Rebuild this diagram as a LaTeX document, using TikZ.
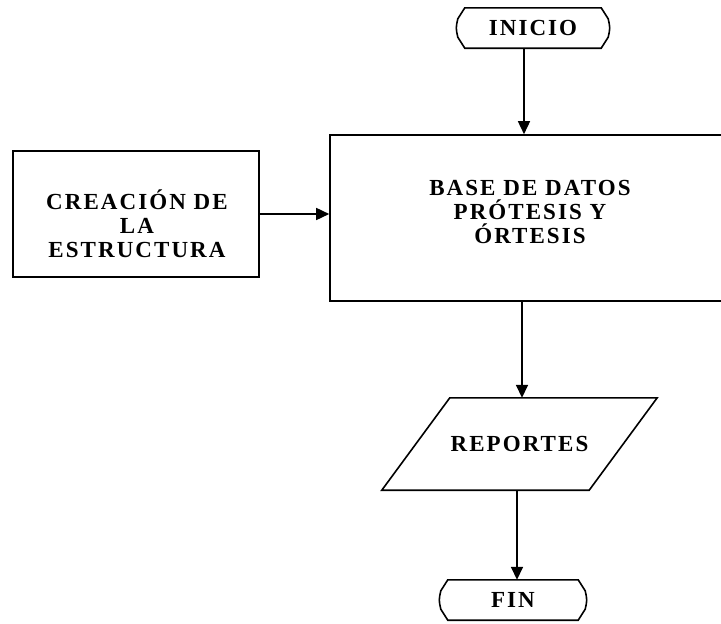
\documentclass[tikz,border=0pt]{standalone}
\usepackage{fontspec}
\newfontfamily\lblfont[LetterSpace=9]{Liberation Serif}
\usetikzlibrary{arrows.meta}

% outline of a terminal (start / end) box around a named node
\newcommand{\drawterminal}[1]{%
  \draw[outline] ([xshift=7pt]#1.north west) -- ([xshift=-7pt]#1.north east)
    -- ([yshift=-11pt]#1.north east) .. controls ([xshift=2pt]#1.east) .. ([yshift=11pt]#1.south east)
    -- ([xshift=-7pt]#1.south east) -- ([xshift=7pt]#1.south west)
    -- ([yshift=11pt]#1.south west) .. controls ([xshift=-2pt]#1.west) .. ([yshift=-11pt]#1.north west)
    -- cycle;}

\begin{document}
\begin{tikzpicture}[x=1pt,y=-1pt,
  outline/.style={line width=1.6pt, line join=miter},
  txt/.style={font=\lblfont\bfseries\fontsize{23}{24}\selectfont, align=center, inner sep=0pt},
  frame/.style={draw, line width=1.6pt, inner sep=0pt},
  arr/.style={line width=1.6pt, -{Triangle[length=13pt,width=12pt]}}]

\useasboundingbox (0,0) rectangle (721,624);

% terminals
\node[txt, minimum width=150pt, minimum height=40pt] (ini) at (533,28) {INICIO};
\drawterminal{ini}
\node[txt, minimum width=144pt, minimum height=40pt] (fin) at (513,600) {FIN};
\drawterminal{fin}

% process boxes
\node[frame, minimum width=400pt, minimum height=166pt] (bd) at (530,218) {};
\node[txt] (bdtext) at (530,212) {BASE DE DATOS\\PRÓTESIS Y\\ÓRTESIS};

\node[frame, minimum width=246pt, minimum height=126pt] (cre) at (136,214) {};
\node[txt] (cretext) at (137,224) {CREACIÓN DE\\LA\\ESTRUCTURA};

% output (parallelogram)
\node[txt, minimum width=207pt, minimum height=92pt] (rep) at (519.5,444) {REPORTES};
\draw[outline] ([xshift=34pt]rep.north west) -- ([xshift=34pt]rep.north east)
  -- ([xshift=-34pt]rep.south east) -- ([xshift=-34pt]rep.south west) -- cycle;

% connectors
\draw[arr] ([xshift=-9pt]ini.south) -- ([xshift=-9pt]ini.south |- bd.north);
\draw[arr] (cre.east) -- (cre.east -| bd.west);
\draw[arr] ([xshift=-8pt]bd.south) -- ([xshift=-8pt]bd.south |- rep.north);
\draw[arr] ([xshift=-2.5pt]rep.south) -- ([xshift=-2.5pt]rep.south |- fin.north);
\end{tikzpicture}
\end{document}
